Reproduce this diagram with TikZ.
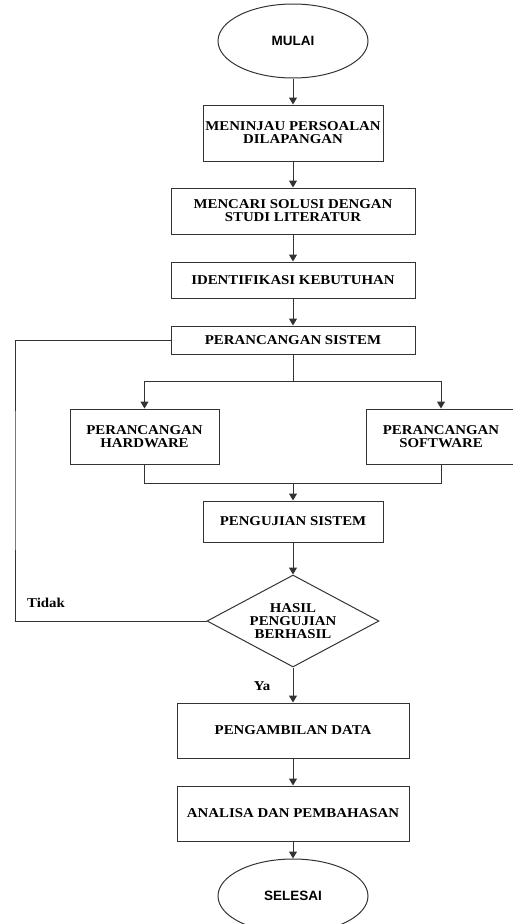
\documentclass[tikz,border=0pt]{standalone}
\usepackage{fontspec}
\setmainfont{Liberation Serif}[FakeStretch=1.1]
\newfontfamily\ujungfont{Liberation Sans}
\usetikzlibrary{shapes.geometric,arrows.meta}
\definecolor{garisabu}{HTML}{333333}
\tikzset{
  garis/.style={draw=garisabu,line width=1pt},
  panah/.style={garis,-{Triangle[width=8pt,length=7pt]}},
  kotak/.style={garis,rectangle,inner sep=0pt,align=center,
    font=\bfseries\fontsize{13.5}{13}\selectfont},
  ujung/.style={garis,ellipse,inner sep=0pt,minimum width=150,minimum height=74,
    font=\ujungfont\bfseries\fontsize{13.5}{13}\selectfont},
  pilihan/.style={garis,diamond,inner sep=0pt,align=center,aspect=1.87,
    minimum width=172,minimum height=92,font=\bfseries\fontsize{13.5}{13}\selectfont},
  ket/.style={inner sep=0pt,font=\bfseries\fontsize{13.5}{13}\selectfont}
}

\begin{document}
\begin{tikzpicture}[x=1pt,y=-1pt]
  \useasboundingbox (0,0) rectangle (512,924);
  %
  % main column
  \node[ujung] (mulai) at (293,41) {MULAI};
  \node[kotak,minimum width=180,minimum height=56] (tinjau) at (293,133)
    {MENINJAU PERSOALAN\\DILAPANGAN};
  \node[kotak,minimum width=244,minimum height=46] (solusi) at (293,211)
    {MENCARI SOLUSI DENGAN\\STUDI LITERATUR};
  \node[kotak,minimum width=244,minimum height=36] (identifikasi) at (293,280)
    {IDENTIFIKASI KEBUTUHAN};
  \node[kotak,minimum width=244,minimum height=28] (rancang) at (293,340)
    {PERANCANGAN SISTEM};
  %
  % two branches
  \node[kotak,minimum width=149,minimum height=55] (hardware) at (144.5,436.5)
    {PERANCANGAN\\HARDWARE};
  \node[kotak,minimum width=149,minimum height=55] (software) at (441,436.5)
    {PERANCANGAN\\SOFTWARE};
  \coordinate (cabang) at (293,381);
  \coordinate (gabung) at (293,483);
  %
  \node[kotak,minimum width=180,minimum height=41] (uji) at (293,521.5)
    {PENGUJIAN SISTEM};
  \node[pilihan] (hasil) at (293,621) {HASIL\\PENGUJIAN\\BERHASIL};
  \node[kotak,minimum width=232,minimum height=55] (ambil) at (293,730.5)
    {PENGAMBILAN DATA};
  \node[kotak,minimum width=232,minimum height=55] (analisa) at (293,813.5)
    {ANALISA DAN PEMBAHASAN};
  \node[ujung] (selesai) at (293,896) {SELESAI};
  %
  % labels
  \node[ket] (tidak) at (46,603) {Tidak};
  \node[ket] (ya) at (262,686) {Ya};
  %
  % connectors
  \draw[panah] (mulai) -- (tinjau);
  \draw[panah] (tinjau) -- (solusi);
  \draw[panah] (solusi) -- (identifikasi);
  \draw[panah] (identifikasi) -- (rancang);
  \draw[garis] (rancang) -- (cabang);
  \draw[panah] (cabang) -| (hardware);
  \draw[panah] (cabang) -| (software);
  \draw[garis] (hardware) |- (gabung);
  \draw[garis] (software) |- (gabung);
  \draw[panah] (gabung) -- (uji);
  \draw[panah] (uji) -- (hasil);
  \coordinate (kiri) at (15,480);
  \draw[garis] (hasil.west) -| (kiri) |- (rancang.west);  % back when Tidak
  \draw[panah] (hasil) -- (ambil);
  \draw[panah] (ambil) -- (analisa);
  \draw[panah] (analisa) -- (selesai);
\end{tikzpicture}
\end{document}
